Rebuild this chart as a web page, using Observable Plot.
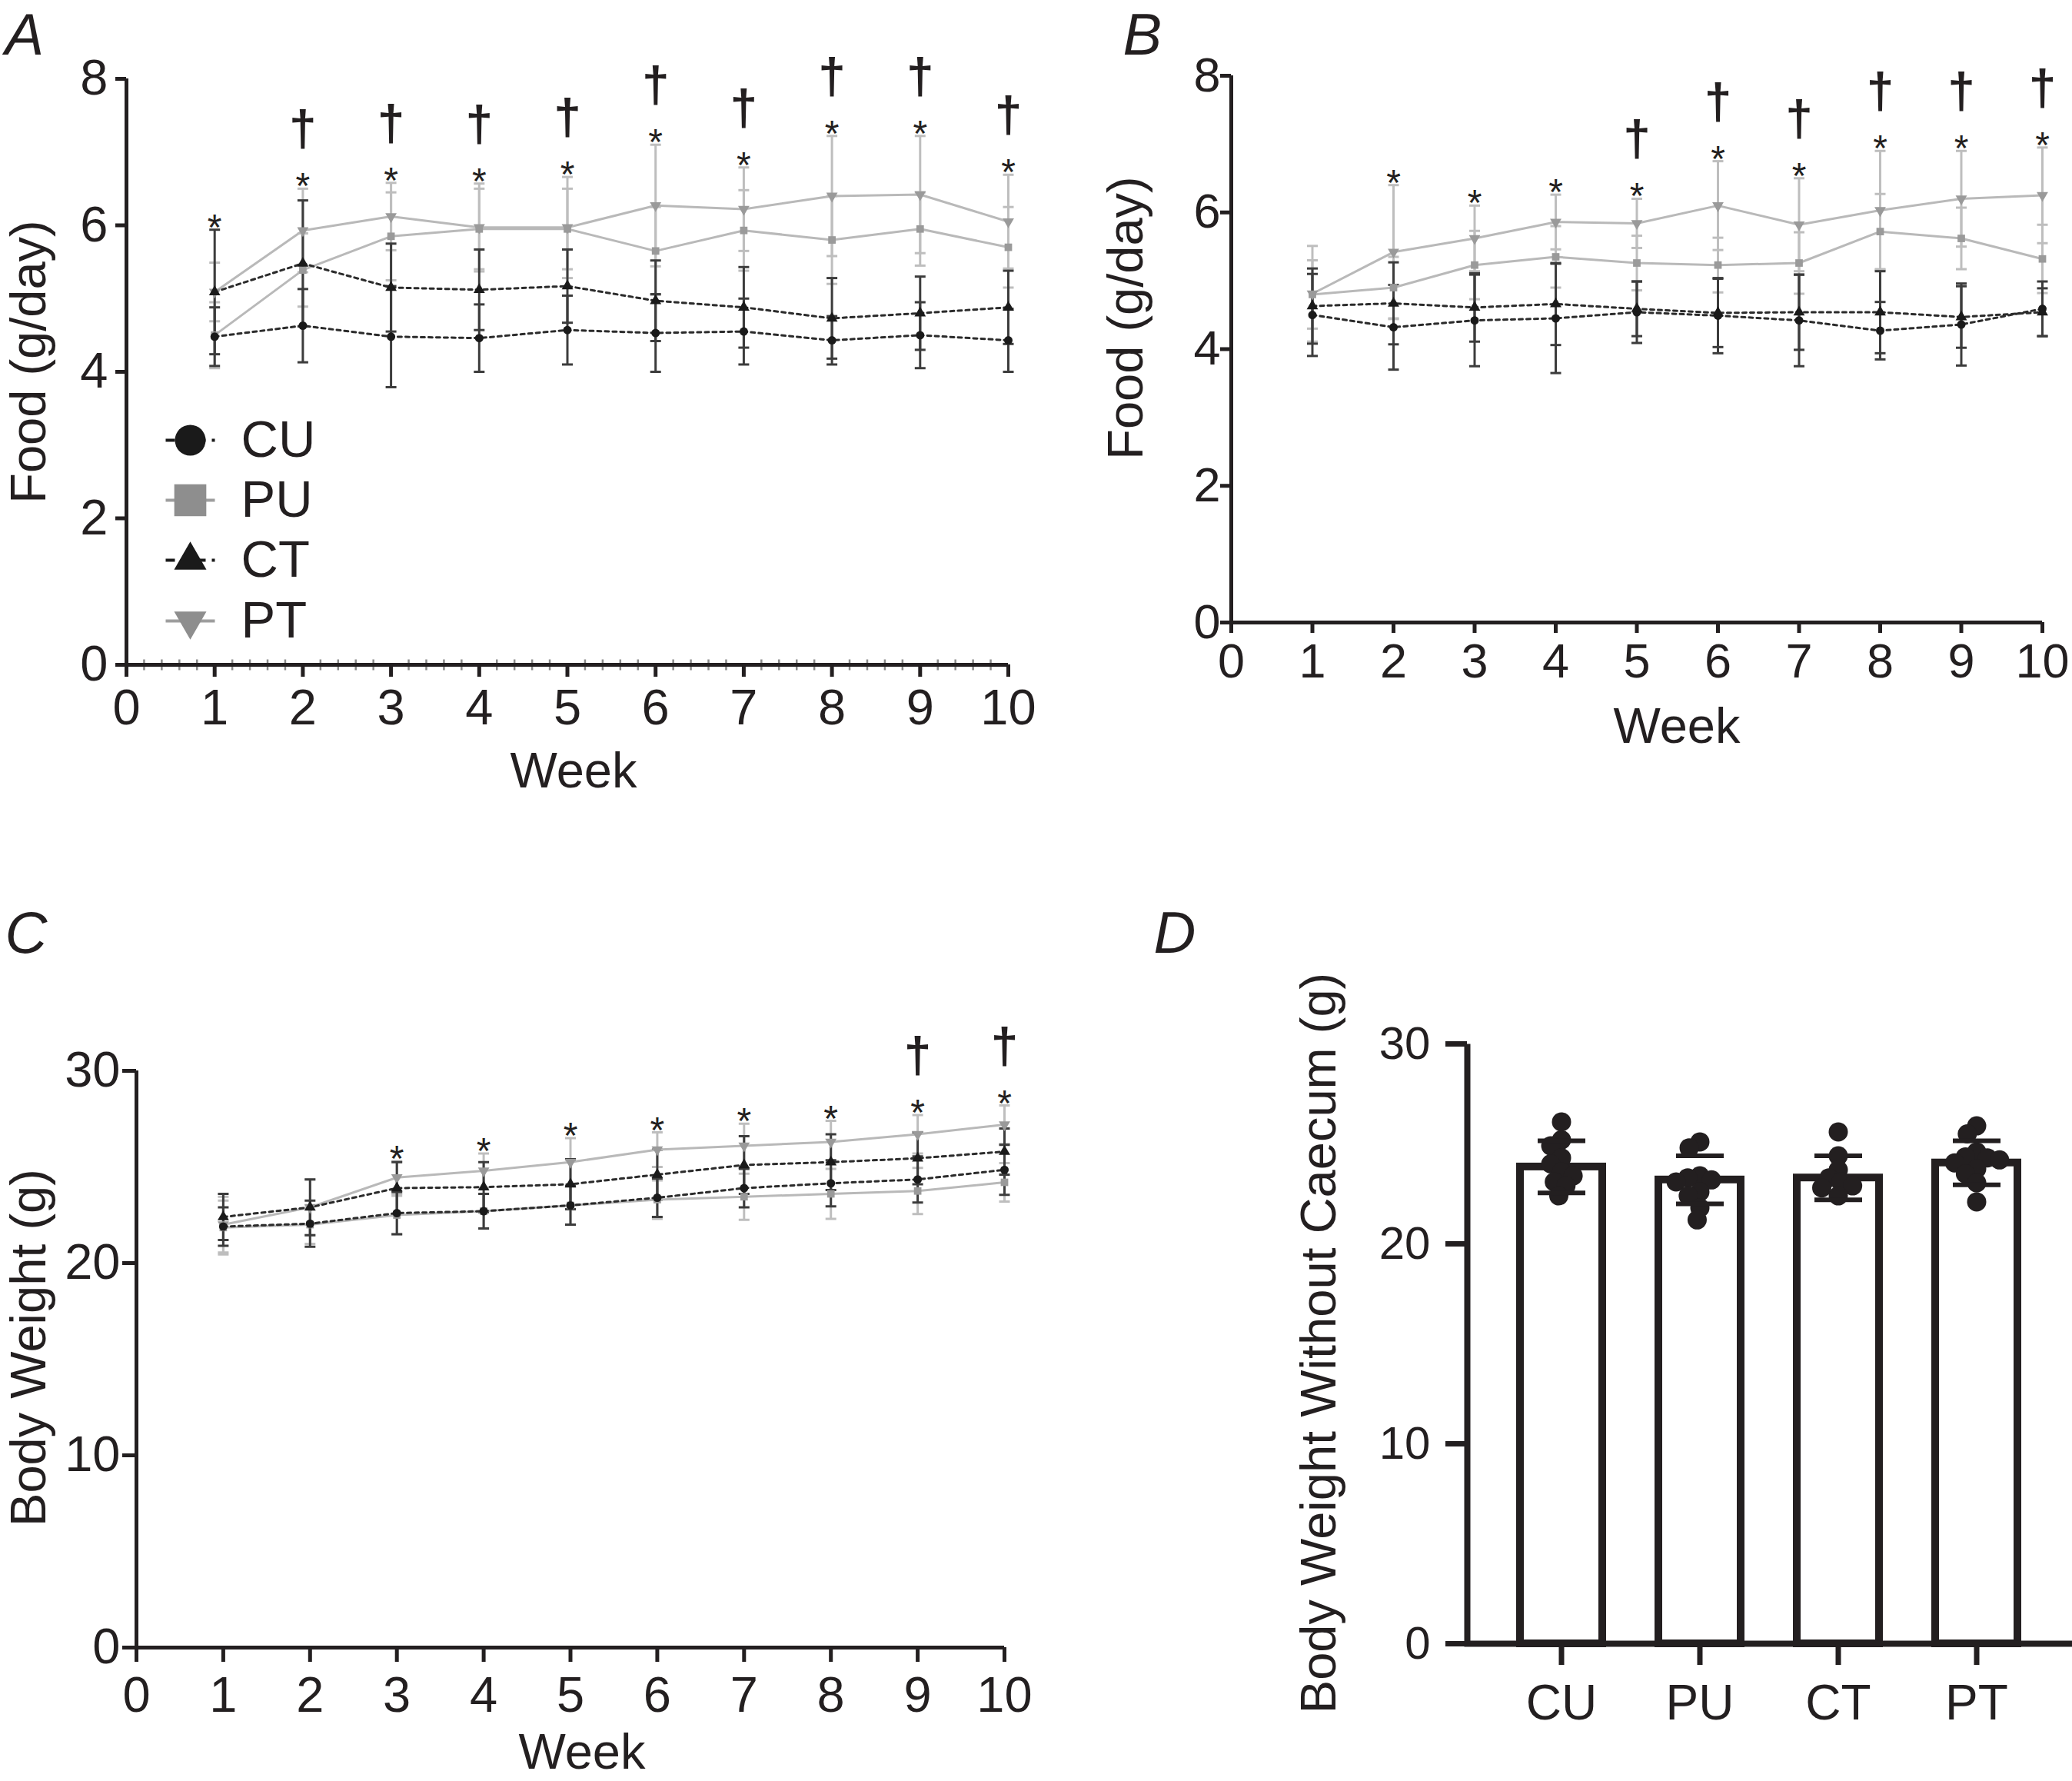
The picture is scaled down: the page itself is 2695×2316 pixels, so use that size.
<!DOCTYPE html>
<html>
<head>
<meta charset="utf-8">
<script src="https://cdn.jsdelivr.net/npm/d3@7"></script>
<script src="https://cdn.jsdelivr.net/npm/@observablehq/plot@0.6"></script>
<style>
  html, body { margin: 0; padding: 0; background: #ffffff; }
  #page { position: relative; width: 2695px; height: 2316px; overflow: hidden; background: #ffffff; }
  #page svg { position: absolute; left: 0; top: 0; }
</style>
</head>
<body>
<div id="page"></div>
<script>
// ---------------- DATA ----------------
const weeks = [1, 2, 3, 4, 5, 6, 7, 8, 9, 10];
const groups = ["CU", "PU", "CT", "PT"];
const xTicks = [0, 1, 2, 3, 4, 5, 6, 7, 8, 9, 10];
const foodTicks = [0, 2, 4, 6, 8];
const weightTicks = [0, 10, 20, 30];

// Panel A: food intake (g/day), mean and SD per week
const foodA_CU = [4.48, 4.63, 4.48, 4.46, 4.57, 4.53, 4.55, 4.43, 4.50, 4.43];
const foodA_PU = [4.50, 5.39, 5.85, 5.95, 5.95, 5.65, 5.93, 5.80, 5.95, 5.70];
const foodA_CT = [5.09, 5.48, 5.15, 5.12, 5.17, 4.97, 4.88, 4.73, 4.80, 4.88];
const foodA_PT = [5.09, 5.93, 6.12, 5.97, 5.97, 6.27, 6.22, 6.40, 6.42, 6.05];
const sdA_CU = [0.40, 0.50, 0.69, 0.46, 0.47, 0.53, 0.45, 0.33, 0.45, 0.43];
const sdA_PU = [0.45, 0.50, 0.60, 0.55, 0.55, 0.60, 0.55, 0.60, 0.50, 0.55];
const sdA_CT = [0.85, 0.86, 0.60, 0.55, 0.50, 0.55, 0.55, 0.55, 0.50, 0.50];
const sdA_PT = [0.40, 0.57, 0.46, 0.60, 0.69, 0.83, 0.57, 0.82, 0.80, 0.64];
const starWeeksA = [1, 2, 3, 4, 5, 6, 7, 8, 9, 10];
const daggerWeeksA = [2, 3, 4, 5, 6, 7, 8, 9, 10];

// Panel B: food intake (g/day)
const foodB_CU = [4.50, 4.32, 4.42, 4.45, 4.54, 4.49, 4.42, 4.27, 4.36, 4.59];
const foodB_PU = [4.80, 4.90, 5.23, 5.35, 5.26, 5.23, 5.26, 5.72, 5.62, 5.32];
const foodB_CT = [4.63, 4.67, 4.61, 4.66, 4.59, 4.53, 4.54, 4.54, 4.47, 4.54];
const foodB_PT = [4.81, 5.42, 5.62, 5.86, 5.84, 6.10, 5.82, 6.03, 6.20, 6.25];
const sdB_CU = [0.60, 0.62, 0.67, 0.80, 0.45, 0.55, 0.67, 0.42, 0.60, 0.40];
const sdB_PU = [0.50, 0.45, 0.50, 0.45, 0.40, 0.40, 0.45, 0.55, 0.45, 0.50];
const sdB_CT = [0.55, 0.60, 0.50, 0.60, 0.40, 0.50, 0.55, 0.60, 0.45, 0.35];
const sdB_PT = [0.70, 0.98, 0.48, 0.40, 0.36, 0.65, 0.68, 0.87, 0.70, 0.70];
const starWeeksB = [2, 3, 4, 5, 6, 7, 8, 9, 10];
const daggerWeeksB = [5, 6, 7, 8, 9, 10];

// Panel C: body weight (g)
const bwC_CU = [21.9, 22.05, 22.6, 22.7, 23.0, 23.4, 23.9, 24.15, 24.35, 24.85];
const bwC_PU = [21.85, 22.0, 22.5, 22.7, 23.0, 23.3, 23.45, 23.6, 23.75, 24.2];
const bwC_CT = [22.4, 22.9, 23.9, 23.95, 24.1, 24.6, 25.1, 25.25, 25.45, 25.8];
const bwC_PT = [22.0, 22.9, 24.45, 24.8, 25.25, 25.9, 26.1, 26.3, 26.7, 27.2];
const sdC_CU = [1.0, 1.2, 1.1, 0.9, 1.0, 1.0, 1.0, 1.2, 1.2, 1.3];
const sdC_PU = [1.4, 1.0, 1.0, 0.9, 1.0, 1.0, 1.2, 1.3, 1.2, 1.0];
const sdC_CT = [1.2, 1.45, 1.35, 1.3, 1.3, 1.3, 1.5, 1.45, 1.35, 1.2];
const sdC_PT = [1.45, 1.45, 0.85, 0.9, 1.25, 0.9, 1.15, 1.1, 1.0, 1.0];
const starWeeksC = [3, 4, 5, 6, 7, 8, 9, 10];
const daggerWeeksC = [9, 10];

// Panel D: body weight without caecum (g)
const dMeans = [23.85, 23.2, 23.3, 24.05];
const dSDs = [1.3, 1.2, 1.1, 1.1];
const dDots_CU = [26.1, 25.2, 24.9, 24.3, 24.0, 23.6, 23.4, 23.1, 22.9, 22.4];
const dDots_PU = [25.1, 24.8, 23.4, 23.3, 23.2, 23.1, 22.6, 22.4, 21.8, 21.2];
const dDots_CT = [25.6, 24.4, 23.7, 23.3, 23.1, 22.9, 22.8, 22.4];
const dDots_PT = [25.9, 25.5, 24.6, 24.35, 24.3, 24.2, 24.05, 23.75, 23.5, 23.05, 22.1];

// ---------------- STYLE ----------------
const W = 2695, H = 2316;
const FONT = '"Liberation Sans", Arial, Helvetica, sans-serif';
const INK = "#231f20";

const capSym = {draw(ctx, size) { const w = Math.sqrt(size / Math.PI); ctx.moveTo(-w, 0); ctx.lineTo(w, 0); }};
const vSym = {draw(ctx, size) { const h = Math.sqrt(size / Math.PI); ctx.moveTo(0, -h); ctx.lineTo(0, h); }};
const triDown = {draw(ctx, size) {
  const y = -Math.sqrt(size / (Math.sqrt(3) * 3));
  ctx.moveTo(0, -y * 2); ctx.lineTo(-Math.sqrt(3) * y, y); ctx.lineTo(Math.sqrt(3) * y, y); ctx.closePath();
}};

const look = {
  CU: {line: "#2b2b2b", dash: "5,5", mark: "#1a1a1a", err: "#3c3c3c", symbol: "circle", legR: 20},
  PU: {line: "#b9b9b9", dash: null, mark: "#9a9a9a", err: "#bebebe", symbol: "square", legR: 23.5},
  CT: {line: "#2b2b2b", dash: "5,5", mark: "#1a1a1a", err: "#3c3c3c", symbol: "triangle", legR: 15.6},
  PT: {line: "#b9b9b9", dash: null, mark: "#9a9a9a", err: "#bebebe", symbol: triDown, legR: 15.6}
};

function rowsOf(means, sds, group) {
  return weeks.map((w, i) => ({week: w, group, mean: means[i], sd: sds[i]}));
}

function linePanel(cfg) {
  const f = cfg.frame;
  const series = groups.map(g => ({g, rows: rowsOf(cfg.means[g], cfg.sds[g], g)}));
  const all = series.flatMap(s => s.rows);
  const topAt = w => d3.max(all.filter(d => d.week === w), d => d.mean + d.sd);
  const starRows = cfg.stars.map(w => ({week: w, top: topAt(w)}));
  const daggerRows = cfg.daggers.map(w => ({week: w, top: topAt(w)}));
  const drawOrder = ["PU", "PT", "CU", "CT"];
  const marks = [];
  for (const g of drawOrder) {
    const rows = series.find(s => s.g === g).rows;
    const L = look[g];
    marks.push(Plot.ruleX(rows, {x: "week", y1: d => d.mean - d.sd, y2: d => d.mean + d.sd, stroke: L.err, strokeWidth: 3}));
    const caps = rows.flatMap(d => [{week: d.week, v: d.mean - d.sd}, {week: d.week, v: d.mean + d.sd}]);
    marks.push(Plot.dot(caps, {x: "week", y: "v", symbol: capSym, r: 7, stroke: L.err, fill: "none", strokeWidth: 3}));
  }
  for (const g of drawOrder) {
    const rows = series.find(s => s.g === g).rows;
    const L = look[g];
    marks.push(Plot.line(rows, {x: "week", y: "mean", stroke: L.line, strokeWidth: 3, strokeDasharray: L.dash || undefined}));
  }
  for (const g of drawOrder) {
    const rows = series.find(s => s.g === g).rows;
    const L = look[g];
    marks.push(Plot.dot(rows, {x: "week", y: "mean", symbol: L.symbol, r: 5.5, fill: L.mark, stroke: "none"}));
  }
  marks.push(Plot.text(starRows, {x: "week", y: "top", text: () => "*", fontSize: 48, lineAnchor: "bottom", dy: 13, fill: INK}));
  marks.push(Plot.text(daggerRows, {x: "week", y: "top", text: () => "\u2020", fontSize: 64, fontWeight: "bold", lineAnchor: "bottom", dy: -56, fill: INK}));
  if (cfg.minor) {
    marks.push(Plot.dot(d3.range(1, 50).map(i => i / 5).filter(v => Math.abs(v - Math.round(v)) > 1e-6), {x: d => d, frameAnchor: "bottom", symbol: vSym, r: 7, stroke: "#8a8a8a", strokeWidth: 2.5}));
  }
  marks.push(Plot.ruleY([0], {x1: 0, x2: 10, stroke: INK, strokeWidth: 5}));
  marks.push(Plot.ruleX([0], {y1: cfg.yDomain[0], y2: cfg.yDomain[1], stroke: INK, strokeWidth: 5}));
  marks.push(Plot.axisX({ticks: xTicks, tickFormat: d3.format("d"), tickSize: cfg.xTickSize, tickPadding: cfg.xTickPad, fontSize: cfg.font, stroke: INK, strokeWidth: 5, label: null}));
  marks.push(Plot.axisY({ticks: cfg.yTicks, tickFormat: d3.format("d"), tickSize: cfg.yTickSize, tickPadding: cfg.yTickPad, fontSize: cfg.font, stroke: INK, strokeWidth: 5, label: null}));
  marks.push(Plot.text(["Week"], {frameAnchor: "bottom", dy: cfg.weekBaseline - f.bottom, dx: cfg.weekDx || 0, textAnchor: "middle", lineAnchor: "bottom", fontSize: 65, fill: INK}));
  marks.push(Plot.text([cfg.yTitle], {frameAnchor: "left", rotate: -90, dx: cfg.yTitleX - f.left, dy: cfg.yTitleY - (f.top + f.bottom) / 2, textAnchor: "middle", lineAnchor: "bottom", fontSize: 65, fill: INK}));
  marks.push(Plot.text([cfg.letter], {frameAnchor: "top-left", dx: cfg.letterX - f.left, dy: cfg.letterY - f.top, lineAnchor: "bottom", textAnchor: "start", fontSize: 76, fontStyle: "italic", fill: INK}));
  if (cfg.legend) {
    cfg.legend.forEach((ly, i) => {
      const g = groups[i];
      const L = look[g];
      const dark = g === "CU" || g === "CT";
      marks.push(Plot.dot([g], {frameAnchor: "top-left", dx: 247 - f.left, dy: ly - f.top, symbol: capSym, r: 32, stroke: dark ? "#1a1a1a" : "#9e9e9e", strokeWidth: 4, strokeDasharray: dark ? "12,8" : undefined, fill: "none"}));
      marks.push(Plot.dot([g], {frameAnchor: "top-left", dx: 247 - f.left, dy: ly - f.top, symbol: L.symbol, r: L.legR, fill: dark ? "#1a1a1a" : "#8e8e8e", stroke: "none"}));
      marks.push(Plot.text([g], {frameAnchor: "top-left", dx: 313 - f.left, dy: ly - f.top, text: d => d, textAnchor: "start", lineAnchor: "middle", fontSize: 67, fill: INK}));
    });
  }
  return Plot.plot({
    width: W, height: H,
    marginLeft: f.left, marginRight: W - f.right, marginTop: f.top, marginBottom: H - f.bottom,
    x: {domain: [0, 10]},
    y: {domain: cfg.yDomain},
    style: {background: "transparent", fontFamily: FONT, color: INK, overflow: "visible"},
    marks
  });
}

const page = document.getElementById("page");

page.appendChild(linePanel({
  frame: {left: 164, right: 1311, top: 102, bottom: 864},
  means: {CU: foodA_CU, PU: foodA_PU, CT: foodA_CT, PT: foodA_PT},
  sds: {CU: sdA_CU, PU: sdA_PU, CT: sdA_CT, PT: sdA_PT},
  stars: starWeeksA, daggers: daggerWeeksA,
  yDomain: [0, 8], yTicks: foodTicks, font: 65,
  xTickSize: 16, xTickPad: 15, yTickSize: 14, yTickPad: 10,
  weekBaseline: 1023, weekDx: 8,
  yTitle: "Food (g/day)", yTitleX: 58, yTitleY: 470,
  letter: "A", letterX: 6, letterY: 70,
  minor: true,
  legend: [572, 650, 728, 807]
}));

page.appendChild(linePanel({
  frame: {left: 1601, right: 2656, top: 98, bottom: 809},
  means: {CU: foodB_CU, PU: foodB_PU, CT: foodB_CT, PT: foodB_PT},
  sds: {CU: sdB_CU, PU: sdB_PU, CT: sdB_CT, PT: sdB_PT},
  stars: starWeeksB, daggers: daggerWeeksB,
  yDomain: [0, 8], yTicks: foodTicks, font: 63,
  xTickSize: 14, xTickPad: 13, yTickSize: 14, yTickPad: 0,
  weekBaseline: 965, weekDx: 52,
  yTitle: "Food (g/day)", yTitleX: 1485, yTitleY: 413,
  letter: "B", letterX: 1460, letterY: 70,
  minor: false
}));

page.appendChild(linePanel({
  frame: {left: 177, right: 1306, top: 1392, bottom: 2142},
  means: {CU: bwC_CU, PU: bwC_PU, CT: bwC_CT, PT: bwC_PT},
  sds: {CU: sdC_CU, PU: sdC_PU, CT: sdC_CT, PT: sdC_PT},
  stars: starWeeksC, daggers: daggerWeeksC,
  yDomain: [0, 30], yTicks: weightTicks, font: 65,
  xTickSize: 19, xTickPad: 18, yTickSize: 18, yTickPad: 3,
  weekBaseline: 2299, weekDx: 15,
  yTitle: "Body Weight (g)", yTitleX: 58, yTitleY: 1752,
  letter: "C", letterX: 6, letterY: 1238,
  minor: false
}));

// ---------------- PANEL D ----------------
const dFrame = {left: 1908, right: 2695, top: 1357, bottom: 2137};
const dSummary = groups.map((g, i) => ({group: g, mean: dMeans[i], sd: dSDs[i]}));
const dDotsByGroup = {CU: dDots_CU, PU: dDots_PU, CT: dDots_CT, PT: dDots_PT};
const dDots = groups.flatMap(g => dDotsByGroup[g].map(v => ({group: g, value: v})));
const band = {domain: groups, paddingInner: 0.406, paddingOuter: 0.389, align: 0.49};
const fw = dFrame.right - dFrame.left, fh = dFrame.bottom - dFrame.top;

page.appendChild(Plot.plot({
  width: W, height: H,
  marginLeft: dFrame.left, marginRight: W - dFrame.right, marginTop: dFrame.top, marginBottom: H - dFrame.bottom,
  x: band,
  y: {domain: [0, 30]},
  style: {background: "transparent", fontFamily: FONT, color: INK, overflow: "visible"},
  marks: [
    Plot.barY(dSummary, {x: "group", y: "mean", fill: "white", stroke: INK, strokeWidth: 10}),
    Plot.frame({stroke: INK, strokeWidth: 8, strokeDasharray: `0 ${fw + fh} ${fw + fh}`}),
    Plot.axisY({ticks: weightTicks, tickSize: 28, tickPadding: 20, fontSize: 60, stroke: INK, strokeWidth: 7, label: null}),
    Plot.axisX({tickSize: 28, tickPadding: 25, fontSize: 64, stroke: INK, strokeWidth: 7, label: null}),
    Plot.text(["Body Weight Without Caecum (g)"], {frameAnchor: "left", rotate: -90, dx: 1736 - dFrame.left, dy: 1746 - (dFrame.top + dFrame.bottom) / 2, textAnchor: "middle", lineAnchor: "bottom", fontSize: 65, fill: INK}),
    Plot.text(["D"], {frameAnchor: "top-left", dx: 1500 - dFrame.left, dy: 1238 - dFrame.top, lineAnchor: "bottom", textAnchor: "start", fontSize: 76, fontStyle: "italic", fill: INK})
  ]
}));

page.appendChild(Plot.plot({
  width: W, height: H,
  marginLeft: dFrame.left, marginRight: W - dFrame.right, marginTop: dFrame.top, marginBottom: H - dFrame.bottom,
  fx: {...band, axis: null},
  y: {domain: [0, 30], axis: null},
  style: {background: "transparent", fontFamily: FONT, color: INK, overflow: "visible"},
  marks: [
    Plot.dot(dDots, Plot.dodgeX({anchor: "middle", padding: -9}, {fx: "group", y: "value", r: 12.5, fill: INK, stroke: "none"})),
    Plot.ruleX(dSummary, {fx: "group", y1: d => d.mean - d.sd, y2: d => d.mean + d.sd, stroke: INK, strokeWidth: 6}),
    Plot.dot(dSummary.flatMap(d => [{group: d.group, v: d.mean + d.sd}, {group: d.group, v: d.mean - d.sd}]), {fx: "group", y: "v", symbol: capSym, r: 31, stroke: INK, strokeWidth: 6, fill: "none"})
  ]
}));
</script>
</body>
</html>
